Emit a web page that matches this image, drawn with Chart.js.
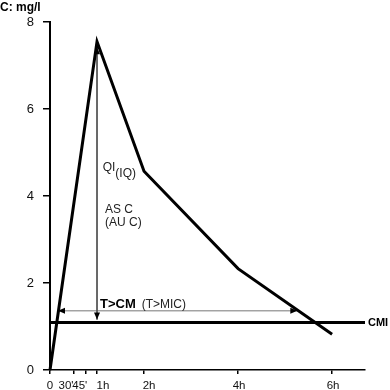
<!DOCTYPE html>
<html>
<head>
<meta charset="utf-8">
<script src="https://cdn.jsdelivr.net/npm/chart.js@4"></script>
<style>
  html, body { margin: 0; padding: 0; background: #fff; }
  #wrap { width: 390px; height: 390px; }
</style>
</head>
<body>
<div id="wrap"><canvas id="chart" width="390" height="390"></canvas></div>
<script>
// concentration curve (hours, mg/l)
const timeHours = [0, 1, 2, 4, 6];
const concentration = [0, 7.55, 4.57, 2.33, 0.82];

// CMI level and the two arrows
const cmiLevel = 1.09;
const peakArrowY = [7.42, 1.16];
const timeAboveX = [0.17, 5.26];
const timeAboveY = 1.36;

// x ticks
const xTickValues = [0, 0.5, 0.75, 1, 2, 4, 6];
const xTickLabels = ["0", "30'", "45'", "1h", "2h", "4h", "6h"];

const FONT = '"Liberation Sans", Arial, Helvetica, sans-serif';
const xMax = 6.7;
// labels in the original sit a little off their ticks (crowded near 0)
const xLabelShift = [0, -7.5, -5.5, 6, 5, 1, 1];

function arrowHead(ctx, x, y, dx, dy) {
  const len = 7, half = 3;
  const px = -dy, py = dx;
  ctx.beginPath();
  ctx.moveTo(x, y);
  ctx.lineTo(x - dx * len + px * half, y - dy * len + py * half);
  ctx.lineTo(x - dx * len - px * half, y - dy * len - py * half);
  ctx.closePath();
  ctx.fill();
}

const extras = {
  id: 'extras',
  afterDatasetsDraw(chart) {
    const ctx = chart.ctx;
    const xs = chart.scales.x, ys = chart.scales.y;
    const X = v => xs.getPixelForValue(v);
    const Y = v => ys.getPixelForValue(v);
    ctx.save();
    ctx.fillStyle = '#000';

    // arrow heads
    arrowHead(ctx, X(1), Y(peakArrowY[0]), 0, -1);
    arrowHead(ctx, X(1), Y(peakArrowY[1]), 0, 1);
    arrowHead(ctx, X(timeAboveX[0]), Y(timeAboveY), -1, 0);
    arrowHead(ctx, X(timeAboveX[1]), Y(timeAboveY), 1, 0);

    // x tick labels
    ctx.font = '11.5px ' + FONT;
    ctx.fillStyle = '#111';
    ctx.textAlign = 'center';
    ctx.textBaseline = 'alphabetic';
    xTickValues.forEach((v, i) => {
      ctx.fillText(xTickLabels[i], X(v) + xLabelShift[i], 389);
    });

    ctx.fillStyle = '#000';
    ctx.textAlign = 'left';

    // axis title
    ctx.font = 'bold 12px ' + FONT;
    ctx.fillText('C: mg/l', 0, 11);

    // CMI label
    ctx.font = 'bold 11px ' + FONT;
    ctx.textBaseline = 'middle';
    ctx.fillText('CMI', chart.chartArea.right + 3, Y(cmiLevel));
    ctx.textBaseline = 'alphabetic';

    // T>CM
    ctx.font = 'bold 13px ' + FONT;
    ctx.fillText('T>CM', X(1.064), Y(1.425));
    ctx.font = '12px ' + FONT;
    ctx.fillStyle = '#222';
    ctx.fillText('(T>MIC)', X(1.95), Y(1.425));

    // QI(IQ)
    ctx.font = '12px ' + FONT;
    const qx = X(1.12), qy = Y(4.58);
    ctx.fillText('QI', qx, qy);
    const w = ctx.measureText('QI').width;
    ctx.fillText('(IQ)', qx + w, qy + 6);

    // AS C / (AU C)
    ctx.fillText('AS C', X(1.17), Y(3.61));
    ctx.fillText('(AU C)', X(1.17), Y(3.31));

    ctx.restore();
  }
};

const ctx = document.getElementById('chart').getContext('2d');
new Chart(ctx, {
  type: 'line',
  data: {
    datasets: [
      {
        data: timeHours.map((t, i) => ({ x: t, y: concentration[i] })),
        borderColor: '#000',
        borderWidth: 3,
        pointRadius: 0,
        tension: 0,
        clip: false
      },
      {
        data: [{ x: 0, y: cmiLevel }, { x: xMax, y: cmiLevel }],
        borderColor: '#000',
        borderWidth: 3,
        pointRadius: 0,
        clip: false
      },
      {
        data: [{ x: 1, y: peakArrowY[0] }, { x: 1, y: peakArrowY[1] }],
        borderColor: '#555',
        borderWidth: 1,
        pointRadius: 0
      },
      {
        data: [{ x: timeAboveX[0], y: timeAboveY }, { x: timeAboveX[1], y: timeAboveY }],
        borderColor: '#777',
        borderWidth: 1,
        pointRadius: 0
      }
    ]
  },
  options: {
    responsive: false,
    animation: false,
    devicePixelRatio: 1,
    layout: { padding: { top: 22, right: 25, left: 0, bottom: 0 } },
    plugins: { legend: { display: false }, tooltip: { enabled: false } },
    scales: {
      x: {
        type: 'linear',
        min: 0,
        max: xMax,
        afterBuildTicks: s => { s.ticks = xTickValues.map(v => ({ value: v })); },
        afterFit: s => { s.height = 20; },
        ticks: {
          autoSkip: false,
          maxRotation: 0,
          callback: () => ''
        },
        grid: { drawOnChartArea: false, tickLength: 4, color: '#000', lineWidth: 1.5 },
        border: { color: '#000', width: 1.5 }
      },
      y: {
        min: 0,
        max: 8,
        afterFit: s => { s.width = 50; },
        ticks: {
          stepSize: 2,
          padding: 9,
          color: '#111',
          font: { family: FONT, size: 13 }
        },
        grid: { drawOnChartArea: false, tickLength: 7, color: '#000', lineWidth: 1.5 },
        border: { color: '#000', width: 2 }
      }
    }
  },
  plugins: [extras]
});
</script>
</body>
</html>
